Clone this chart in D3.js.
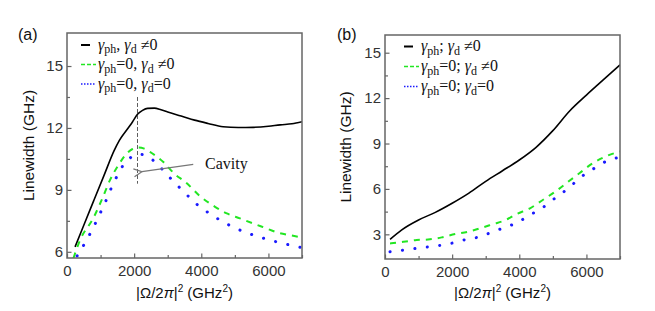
<!DOCTYPE html>
<html>
<head>
<meta charset="utf-8">
<script src="https://cdn.jsdelivr.net/npm/d3@7"></script>
<style>
  body { margin: 0; background: #fff; }
  svg { display: block; }
</style>
</head>
<body>
<svg id="chart" width="655" height="311"></svg>
<script>
// ---- data ----
const xTicks = [0, 2000, 4000, 6000];
const xMinor = [1000, 3000, 5000, 7000];

// panel (a)
const aSolidX = [240, 500, 800, 1100, 1400, 1560, 1800, 1950, 2100, 2250, 2400, 2600, 2800, 3000, 3400, 3800, 4200, 4650, 5100, 5550, 6000, 6350, 6700, 7000];
const aSolidY = [6.24, 7.29, 8.49, 9.69, 10.89, 11.4, 11.95, 12.29, 12.66, 12.85, 12.95, 12.96, 12.88, 12.77, 12.58, 12.38, 12.22, 12.06, 12.02, 12.03, 12.08, 12.15, 12.2, 12.3];
const aDashX = [190, 390, 780, 1030, 1280, 1530, 1780, 1950, 2120, 2300, 2470, 2870, 3220, 3520, 3960, 4410, 4760, 5150, 5550, 5900, 6300, 6650, 7000];
const aDashY = [5.68, 6.57, 7.62, 8.5, 9.47, 10.2, 10.76, 10.98, 11.05, 11.0, 10.84, 10.35, 9.75, 9.39, 8.7, 8.18, 7.86, 7.62, 7.37, 7.16, 6.92, 6.8, 6.7];
const aDotX = [300, 585, 784, 962, 1132, 1300, 1479, 1677, 1850, 2025, 2200, 2393, 2770, 3118, 3485, 3862, 4240, 4608, 4977, 5355, 5750, 6127, 6523, 6890, 7000];
const aDotY = [5.8, 6.57, 7.18, 7.78, 8.37, 9.02, 9.63, 10.2, 10.5, 10.71, 10.72, 10.63, 10.11, 9.5, 8.9, 8.31, 7.86, 7.49, 7.18, 6.92, 6.71, 6.53, 6.37, 6.24, 6.2];
const aYTicks = [6, 9, 12, 15];
const aYMinor = [7.5, 10.5, 13.5];

// panel (b)
const bSolidX = [150, 500, 1000, 1500, 2000, 2500, 3000, 3500, 4000, 4500, 5000, 5500, 6000, 6500, 7000];
const bSolidY = [2.67, 3.3, 3.95, 4.45, 5.05, 5.72, 6.5, 7.2, 7.91, 8.75, 9.85, 11.15, 12.2, 13.2, 14.2];
const bDashX = [150, 550, 940, 1340, 1690, 2090, 2480, 2830, 3230, 3570, 3920, 4320, 4720, 5060, 5460, 5810, 6210, 6600, 7000];
const bDashY = [2.4, 2.51, 2.62, 2.67, 2.8, 3.02, 3.17, 3.4, 3.68, 3.92, 4.34, 4.72, 5.3, 5.8, 6.48, 7.07, 7.73, 8.17, 8.48];
const bDotX = [150, 550, 920, 1320, 1690, 2060, 2430, 2830, 3210, 3500, 3930, 4320, 4700, 5060, 5460, 5830, 6230, 6600, 7000];
const bDotY = [1.85, 1.96, 2.07, 2.18, 2.29, 2.45, 2.67, 2.84, 3.17, 3.4, 3.77, 4.28, 4.77, 5.38, 6.04, 6.77, 7.36, 7.84, 8.1];
const bYTicks = [3, 6, 9, 12, 15];
const bYMinor = [4.5, 7.5, 10.5, 13.5];

// legend labels: [text, subscript?]
const legendA = [
  [["γ", 0], ["ph", 1], [", ", 0], ["γ", 0], ["d", 1], [" ≠0", 0]],
  [["γ", 0], ["ph", 1], ["=0, ", 0], ["γ", 0], ["d", 1], [" ≠0", 0]],
  [["γ", 0], ["ph", 1], ["=0, ", 0], ["γ", 0], ["d", 1], ["=0", 0]]
];
const legendB = [
  [["γ", 0], ["ph", 1], ["; ", 0], ["γ", 0], ["d", 1], [" ≠0", 0]],
  [["γ", 0], ["ph", 1], ["=0; ", 0], ["γ", 0], ["d", 1], [" ≠0", 0]],
  [["γ", 0], ["ph", 1], ["=0; ", 0], ["γ", 0], ["d", 1], ["=0", 0]]
];

// cavity marker (panel a)
const cavityX = 2100;
const cavityYRange = [13.5, 9.3];
const cavityArrow = {from: [3760, 10.24], to: [2230, 9.88]};
const cavityLabel = {x: 4110, y: 10.02, text: "Cavity"};

// ---- styles ----
const seriesStyle = [
  {color: "#000", width: 1.6, dash: null, cap: "butt"},
  {color: "#22e622", width: 2, dash: "6,6", cap: "butt"},
  {color: "#1a1aff", width: 3, dash: "0.1,12.4", cap: "round"}
];
const frameColor = "#666";
const sans = "'Liberation Sans', Arial, sans-serif";
const serif = "'Liberation Serif', 'Times New Roman', serif";

const svg = d3.select("#chart");
svg.append("rect").attr("width", 655).attr("height", 311).attr("fill", "#fff");

svg.append("defs").append("marker")
  .attr("id", "arrowhead")
  .attr("viewBox", "0 0 10 10")
  .attr("refX", 1).attr("refY", 5)
  .attr("markerWidth", 10).attr("markerHeight", 10)
  .attr("markerUnits", "userSpaceOnUse")
  .attr("orient", "auto-start-reverse")
  .append("path")
  .attr("d", "M9,1 L1,5 L9,9")
  .attr("fill", "none")
  .attr("stroke", "#777")
  .attr("stroke-width", 1.3);

function drawPanel(opt) {
  const {left, right, top, bottom, yDomain, yTicks, yMinor, series, legend, legendPos, tag, tagX, yLabelX} = opt;
  const x = d3.scaleLinear().domain([0, 7000]).range([left, right]);
  const y = d3.scaleLinear().domain(yDomain).range([bottom, top]);
  const g = svg.append("g");

  const clipId = "clip-" + tag.replace(/\W/g, "");
  svg.select("defs").append("clipPath").attr("id", clipId)
    .append("rect").attr("x", left).attr("y", top).attr("width", right - left).attr("height", bottom - top);

  // axes (ticks inward)
  const styleAxis = sel => {
    sel.select(".domain").remove();
    sel.selectAll(".tick line").attr("stroke", frameColor).attr("stroke-width", 1.2);
    sel.selectAll(".tick text").attr("fill", "#333").style("font", `15px ${sans}`);
  };
  g.append("g").attr("transform", `translate(0,${bottom})`)
    .call(d3.axisBottom(x).tickValues(xTicks).tickSize(-4.5).tickPadding(7).tickFormat(d3.format("d")))
    .call(styleAxis);
  g.append("g").attr("transform", `translate(0,${bottom})`)
    .call(d3.axisBottom(x).tickValues(xMinor).tickSize(-3).tickFormat(""))
    .call(styleAxis);
  g.append("g").attr("transform", `translate(${left},0)`)
    .call(d3.axisLeft(y).tickValues(yTicks).tickSize(-4.5).tickPadding(4))
    .call(styleAxis);
  g.append("g").attr("transform", `translate(${left},0)`)
    .call(d3.axisLeft(y).tickValues(yMinor).tickSize(-3).tickFormat(""))
    .call(styleAxis);

  // curves
  const line = d3.line().x(d => x(d[0])).y(d => y(d[1])).curve(d3.curveMonotoneX);
  const lines = g.append("g").attr("clip-path", `url(#${clipId})`);
  series.forEach((s, i) => {
    const st = seriesStyle[i];
    lines.append("path")
      .attr("d", line(d3.zip(s[0], s[1])))
      .attr("fill", "none")
      .attr("stroke", st.color)
      .attr("stroke-width", st.width)
      .attr("stroke-dasharray", st.dash)
      .attr("stroke-linecap", st.cap);
  });

  // frame
  g.append("rect")
    .attr("x", left).attr("y", top)
    .attr("width", right - left).attr("height", bottom - top)
    .attr("fill", "none").attr("stroke", frameColor).attr("stroke-width", 1.5);

  // legend
  legend.forEach((segs, i) => {
    const st = seriesStyle[i];
    const ly = legendPos.y + i * legendPos.dy;
    g.append("line")
      .attr("x1", legendPos.x).attr("x2", legendPos.x + (i === 0 ? 9 : 15))
      .attr("y1", ly - 4.5).attr("y2", ly - 4.5)
      .attr("stroke", st.color)
      .attr("stroke-width", i === 0 ? 2 : 1.3)
      .attr("stroke-dasharray", i === 0 ? null : (i === 1 ? "4,2" : "1.5,1.5"));
    const t = g.append("text")
      .attr("x", legendPos.x + 17).attr("y", ly)
      .style("font", `16px ${serif}`).attr("fill", "#111");
    let wasSub = false;
    segs.forEach(([txt, sub]) => {
      const sp = t.append("tspan").text(txt);
      if (txt === "γ") sp.style("font-style", "italic");
      if (sub) sp.style("font-size", "12px").attr("dy", 3.5);
      else if (wasSub) sp.attr("dy", -3.5);
      wasSub = !!sub;
    });
  });

  // panel tag
  svg.append("text").attr("x", tagX).attr("y", 40)
    .style("font", `16px ${sans}`).attr("fill", "#111").text(tag);

  // y label
  svg.append("text")
    .attr("transform", `translate(${yLabelX},${(top + bottom) / 2}) rotate(-90)`)
    .attr("text-anchor", "middle")
    .style("font", `15.5px ${sans}`).attr("fill", "#111")
    .text("Linewidth (GHz)");

  // x label
  const xl = svg.append("text")
    .attr("x", (left + right) / 2).attr("y", 298)
    .attr("text-anchor", "middle")
    .style("font", `15px ${sans}`).attr("fill", "#111");
  xl.append("tspan").text("|Ω/2");
  xl.append("tspan").text("π").style("font-style", "italic");
  xl.append("tspan").text("|");
  xl.append("tspan").text("2").style("font-size", "10px").attr("dy", -6);
  xl.append("tspan").text(" (GHz").attr("dy", 6);
  xl.append("tspan").text("2").style("font-size", "10px").attr("dy", -6);
  xl.append("tspan").text(")").attr("dy", 6);

  return {g, x, y};
}

const pa = drawPanel({
  left: 67, right: 302, top: 33, bottom: 258,
  yDomain: [5.7, 16.6], yTicks: aYTicks, yMinor: aYMinor,
  series: [[aSolidX, aSolidY], [aDashX, aDashY], [aDotX, aDotY]],
  legend: legendA, legendPos: {x: 81, y: 49.5, dy: 19.5},
  tag: "(a)", tagX: 18, yLabelX: 34
});

// cavity annotation
pa.g.append("line")
  .attr("x1", pa.x(cavityX)).attr("x2", pa.x(cavityX))
  .attr("y1", pa.y(cavityYRange[0])).attr("y2", pa.y(cavityYRange[1]))
  .attr("stroke", "#333").attr("stroke-width", 0.8).attr("stroke-dasharray", "4,2");
pa.g.append("line")
  .attr("x1", pa.x(cavityArrow.from[0])).attr("y1", pa.y(cavityArrow.from[1]))
  .attr("x2", pa.x(cavityArrow.to[0])).attr("y2", pa.y(cavityArrow.to[1]))
  .attr("stroke", "#777").attr("stroke-width", 1.3)
  .attr("marker-end", "url(#arrowhead)");
pa.g.append("text")
  .attr("x", pa.x(cavityLabel.x)).attr("y", pa.y(cavityLabel.y))
  .style("font", `16px ${serif}`).attr("fill", "#111")
  .text(cavityLabel.text);

drawPanel({
  left: 385, right: 620, top: 35, bottom: 259,
  yDomain: [1.37, 16.17], yTicks: bYTicks, yMinor: bYMinor,
  series: [[bSolidX, bSolidY], [bDashX, bDashY], [bDotX, bDotY]],
  legend: legendB, legendPos: {x: 404, y: 51, dy: 20},
  tag: "(b)", tagX: 337, yLabelX: 351
});
</script>
</body>
</html>
